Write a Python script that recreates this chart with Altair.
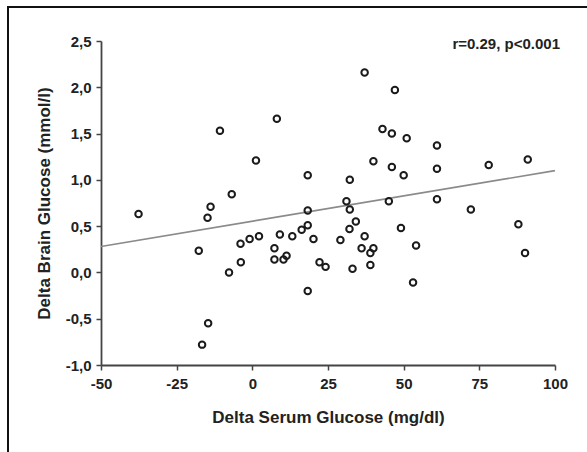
import altair as alt
import pandas as pd

# Scatter data
serum = [-37.6, -17.7, -14.8, -13.8, -14.6, -16.6, -10.7, -6.8, -7.7, -3.9,
         -3.8, -0.9, 2.2, 1.2, 8.1, 7.3, 7.3, 9.1, 10.3, 11.3,
         13.2, 16.3, 18.3, 18.3, 18.3, 18.3, 20.2, 22.2, 24.2, 29.1,
         31.1, 32.2, 32.2, 32.1, 34.2, 33.1, 36.1, 37.1, 37.1, 39.0,
         40.0, 39.0, 40.0, 43.0, 46.1, 47.1, 46.1, 45.1, 49.1, 50.0,
         51.0, 53.1, 54.1, 61.0, 61.0, 61.0, 72.2, 78.1, 87.9, 90.1, 91.0]
brain = [0.63, 0.235, 0.59, 0.71, -0.55, -0.78, 1.53, 0.845, 0.0, 0.31,
         0.11, 0.36, 0.39, 1.21, 1.66, 0.26, 0.14, 0.41, 0.14, 0.18,
         0.39, 0.46, 0.51, 0.67, 1.05, -0.20, 0.36, 0.11, 0.06, 0.35,
         0.77, 0.68, 1.00, 0.47, 0.55, 0.04, 0.26, 0.39, 2.16, 0.21,
         0.26, 0.08, 1.20, 1.55, 1.50, 1.97, 1.14, 0.77, 0.48, 1.05,
         1.45, -0.11, 0.29, 1.37, 1.12, 0.79, 0.68, 1.16, 0.52, 0.21, 1.22]

# Fitted regression line endpoints
fit_x = [-50, 100]
fit_y = [0.28, 1.10]

annotation = ["r=0.29, p<0.001"]
x_ticks = [-50, -25, 0, 25, 50, 75, 100]
y_ticks = [-1.0, -0.5, 0.0, 0.5, 1.0, 1.5, 2.0, 2.5]

FONT = "Liberation Sans"

pts = pd.DataFrame({"serum": serum, "brain": brain})
fit = pd.DataFrame({"serum": fit_x, "brain": fit_y})
ann = pd.DataFrame({"label": annotation})

xscale = alt.Scale(domain=[-50, 100], nice=False, zero=False)
yscale = alt.Scale(domain=[-1.0, 2.5], nice=False, zero=False)

xaxis = alt.Axis(
    title="Delta Serum Glucose (mg/dl)", values=x_ticks,
    labelExpr="replace(format(datum.value, 'd'), '\u2212', '-')",
    labelFlush=False, labelOverlap=False,
    grid=False, domainColor="#444", domainWidth=1.8, tickColor="#444",
    tickWidth=1.5, tickSize=5, labelFont=FONT, labelFontSize=15,
    labelFontWeight="bold", labelColor="#222", labelPadding=6,
    titleFont=FONT, titleFontSize=17, titleFontWeight="bold",
    titleColor="#222", titlePadding=18,
)
yaxis = alt.Axis(
    title="Delta Brain Glucose (mmol/l)", values=y_ticks,
    labelExpr="replace(replace(format(datum.value, '.1f'), '.', ','), '\u2212', '-')",
    labelFlush=False, labelOverlap=False,
    grid=False, domainColor="#444", domainWidth=1.8, tickColor="#444",
    tickWidth=1.5, tickSize=5, labelFont=FONT, labelFontSize=15,
    labelFontWeight="bold", labelColor="#222", labelPadding=5,
    titleFont=FONT, titleFontSize=17, titleFontWeight="bold",
    titleColor="#222", titlePadding=12,
)

line = alt.Chart(fit).mark_line(color="#8a8a8a", strokeWidth=1.6).encode(
    x=alt.X("serum:Q", scale=xscale, axis=xaxis),
    y=alt.Y("brain:Q", scale=yscale, axis=yaxis),
)

points = alt.Chart(pts).mark_point(
    shape="circle", filled=False, color="#1a1a1a", strokeWidth=2,
    size=42, opacity=1,
).encode(
    x=alt.X("serum:Q", scale=xscale),
    y=alt.Y("brain:Q", scale=yscale),
)

text = alt.Chart(ann).mark_text(
    align="right", baseline="middle", font=FONT, fontSize=15,
    fontWeight="bold", color="#222",
).encode(x=alt.value(459), y=alt.value(3), text="label:N")

frame_left = alt.Chart(ann).mark_rule(color="#111", strokeWidth=2).encode(
    x=alt.value(-93), y=alt.value(-35), y2=alt.value(420)
)
frame_top = alt.Chart(ann).mark_rule(color="#111", strokeWidth=2).encode(
    x=alt.value(-94), x2=alt.value(500), y=alt.value(-34)
)

chart = alt.layer(line, points, text, frame_left, frame_top).properties(
    width=454, height=324,
    autosize=alt.AutoSizeParams(type="none"),
    padding={"left": 101, "top": 41, "right": 32, "bottom": 87},
    background="white",
).configure_view(stroke=None)

chart.save("out.html", embed_options={"renderer": "svg", "actions": False})
